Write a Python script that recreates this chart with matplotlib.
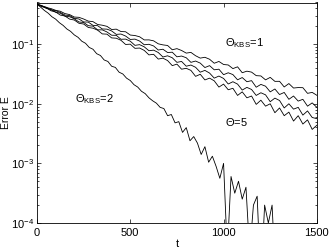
import numpy as np
import matplotlib
matplotlib.use("Agg")
import matplotlib.pyplot as plt
from matplotlib.ticker import LogLocator, NullFormatter

plt.rcParams['font.family'] = ['Liberation Sans', 'DejaVu Sans']
plt.rcParams['mathtext.fontset'] = 'custom'
plt.rcParams['mathtext.rm'] = 'Liberation Sans'
plt.rcParams['mathtext.it'] = 'Liberation Sans'

# time grid of the four slow curves (step 25)
t_slow = np.arange(0, 1501, 25)
# log10 of error E (top to bottom curve)
logE_1 = [-0.33, -0.352, -0.386, -0.403, -0.432, -0.448, -0.487, -0.504, -0.545, -0.550,
          -0.578, -0.613, -0.622, -0.670, -0.682, -0.701, -0.754, -0.748, -0.788, -0.792,
          -0.847, -0.855, -0.876, -0.929, -0.928, -0.944, -0.994, -1.012, -1.022, -1.094,
          -1.075, -1.106, -1.150, -1.138, -1.194, -1.234, -1.220, -1.253, -1.320, -1.290,
          -1.341, -1.349, -1.410, -1.380, -1.479, -1.453, -1.469, -1.528, -1.533, -1.599,
          -1.557, -1.624, -1.623, -1.718, -1.661, -1.736, -1.728, -1.730, -1.825, -1.809,
          -1.858]
logE_2 = [-0.33, -0.362, -0.380, -0.425, -0.438, -0.468, -0.512, -0.521, -0.566, -0.578,
          -0.627, -0.630, -0.684, -0.690, -0.745, -0.748, -0.778, -0.836, -0.830, -0.864,
          -0.921, -0.915, -0.948, -1.010, -1.002, -1.030, -1.098, -1.085, -1.140, -1.135,
          -1.212, -1.199, -1.228, -1.305, -1.283, -1.318, -1.392, -1.360, -1.430, -1.420,
          -1.512, -1.480, -1.510, -1.598, -1.560, -1.630, -1.612, -1.722, -1.675, -1.705,
          -1.800, -1.752, -1.845, -1.810, -1.925, -1.870, -1.955, -1.925, -2.040, -1.985,
          -2.060]
logE_3 = [-0.33, -0.355, -0.400, -0.418, -0.465, -0.480, -0.530, -0.540, -0.575, -0.628,
          -0.636, -0.690, -0.698, -0.760, -0.760, -0.795, -0.850, -0.852, -0.918, -0.915,
          -0.950, -1.020, -1.008, -1.045, -1.110, -1.100, -1.140, -1.215, -1.195, -1.228,
          -1.305, -1.290, -1.370, -1.350, -1.388, -1.470, -1.440, -1.485, -1.570, -1.535,
          -1.575, -1.668, -1.630, -1.670, -1.770, -1.725, -1.760, -1.860, -1.815, -1.850,
          -1.965, -1.905, -1.945, -2.070, -2.000, -2.090, -2.060, -2.190, -2.120, -2.230,
          -2.250]
logE_4 = [-0.33, -0.370, -0.392, -0.440, -0.460, -0.512, -0.528, -0.580, -0.595, -0.650,
          -0.662, -0.720, -0.732, -0.765, -0.828, -0.832, -0.895, -0.900, -0.935, -1.005,
          -1.000, -1.070, -1.065, -1.105, -1.180, -1.170, -1.250, -1.235, -1.275, -1.360,
          -1.335, -1.420, -1.405, -1.440, -1.540, -1.505, -1.600, -1.570, -1.615, -1.720,
          -1.670, -1.765, -1.740, -1.860, -1.800, -1.900, -1.870, -2.010, -1.940, -2.040,
          -2.000, -2.150, -2.070, -2.200, -2.140, -2.290, -2.200, -2.340, -2.270, -2.430,
          -2.360]

# fast curve (Theta_KBS = 2), step 20
t_fast = np.arange(0, 1281, 20)
logE_fast = [-0.33, -0.38, -0.435, -0.48, -0.54, -0.58, -0.64, -0.685, -0.745, -0.785,
             -0.845, -0.885, -0.95, -0.985, -1.055, -1.085, -1.16, -1.19, -1.265, -1.29,
             -1.37, -1.39, -1.47, -1.50, -1.57, -1.61, -1.68, -1.72, -1.79, -1.83,
             -1.90, -1.95, -1.99, -2.06, -2.08, -2.20, -2.18, -2.32, -2.30, -2.48,
             -2.40, -2.62, -2.55, -2.66, -2.85, -2.72, -2.98, -2.88, -3.05, -3.25,
             -3.00, -4.50, -3.22, -3.50, -3.30, -3.60, -3.40, -4.50, -3.70, -3.55,
             -5.00, -3.70, -4.00, -3.70, -5.00]

fig = plt.figure(figsize=(3.32, 2.50), dpi=100)
ax = fig.add_axes([0.1114, 0.108, 0.843, 0.882])

for lg in (logE_1, logE_2, logE_3, logE_4):
    ax.plot(t_slow, 10.0 ** np.array(lg), color='black', lw=0.6)
ax.plot(t_fast, 10.0 ** np.array(logE_fast), color='black', lw=0.6)

ax.set_yscale('log')
ax.set_xlim(0, 1500)
ax.set_ylim(1e-4, 0.5)
ax.set_xticks([0, 500, 1000, 1500])
ax.set_yticks([1e-4, 1e-3, 1e-2, 1e-1])
ax.yaxis.set_minor_locator(LogLocator(base=10, subs=np.arange(2, 10)))
ax.yaxis.set_minor_formatter(NullFormatter())
ax.tick_params(which='both', direction='in', top=True, right=True, labelsize=8, width=0.5)
ax.tick_params(which='major', length=3)
ax.tick_params(which='minor', length=1.5)
ax.tick_params(axis='y', pad=2)
for s in ax.spines.values():
    s.set_linewidth(0.6)

ax.set_xlabel('t', fontsize=8, labelpad=1)
ax.set_ylabel('Error E', fontsize=7.5)
ax.yaxis.set_label_coords(-0.094, 0.5)

ax.text(1005, 0.104, r'$\Theta_{\mathrm{KBS}}$=1', fontsize=8, va='center', ha='left')
ax.text(204, 0.012, r'$\Theta_{\mathrm{KBS}}$=2', fontsize=8, va='center', ha='left')
ax.text(1005, 0.0049, r'$\Theta$=5', fontsize=8, va='center', ha='left')

fig.savefig('out.png', dpi=100)
